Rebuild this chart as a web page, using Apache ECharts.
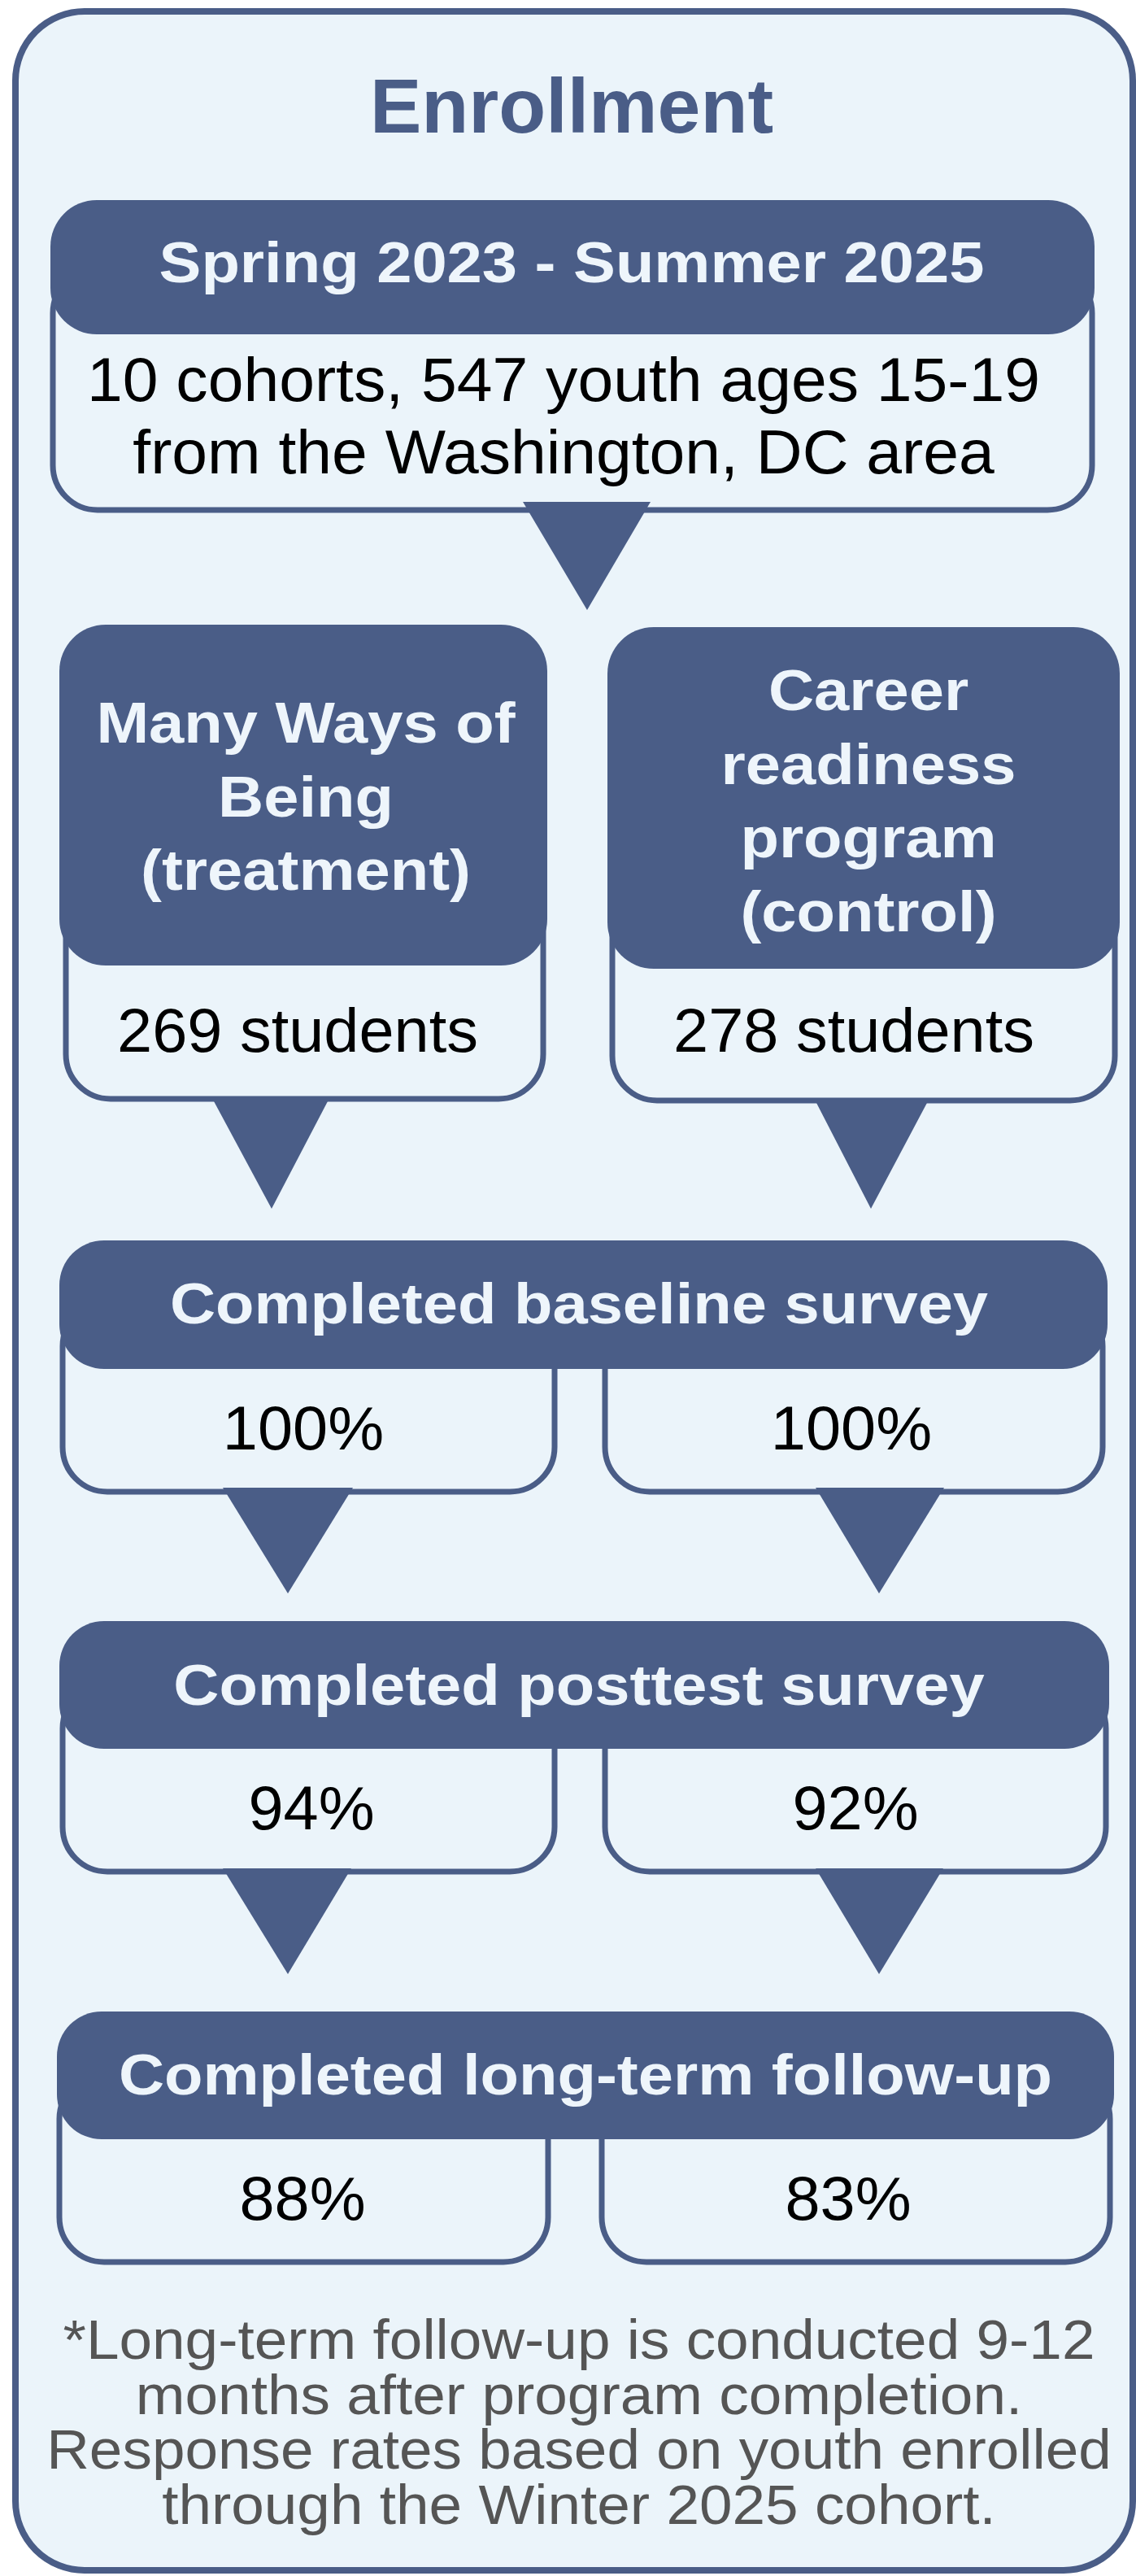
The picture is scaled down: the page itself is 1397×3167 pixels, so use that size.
<!DOCTYPE html>
<html>
<head>
<meta charset="utf-8">
<title>Enrollment</title>
<script src="https://cdn.jsdelivr.net/npm/echarts@6/dist/echarts.min.js"></script>
<style>
  html, body { margin: 0; padding: 0; background: #ffffff; }
  #main { width: 1397px; height: 3167px; }
</style>
</head>
<body>
<div id="main"></div>
<script>
// texts and numbers of the flow diagram
var title = 'Enrollment';
var periodLabel = 'Spring 2023 - Summer 2025';
var enrollmentLines = ['10 cohorts, 547 youth ages 15-19', 'from the Washington, DC area'];
var armLabels = [['Many Ways of', 'Being', '(treatment)'], ['Career', 'readiness', 'program', '(control)']];
var armCounts = [269, 278];
var stageLabels = ['Completed baseline survey', 'Completed posttest survey', 'Completed long-term follow-up'];
var treatmentRates = [100, 94, 88];
var controlRates = [100, 92, 83];
var footnoteLines = [
  '*Long-term follow-up is conducted 9-12',
  'months after program completion.',
  'Response rates based on youth enrolled',
  'through the Winter 2025 cohort.'
];

var DARK = '#4a5d87';
var LIGHT = '#ebf4fa';
var HEAD_TXT = '#eef5fb';
var FONT = '"Liberation Sans", Arial, Helvetica, sans-serif';
var TEXT_SHIFT = 6; // canvas 'middle' sits a bit above the cap centre

// layout (pixels)
var arms = [
  {head: [73, 768, 600, 419], body: [81, 1000, 587, 351], cx: 376, lineY: 888, count: [366, 1266]},
  {head: [747, 771, 630, 420], body: [753, 1000, 618, 353], cx: 1068, lineY: 848, count: [1050, 1266]}
];
var stages = [
  {head: [73, 1525, 1289, 158], left: [77, 1600, 605, 234], right: [744, 1600, 612, 234], tx: 712, ty: 1602, lx: 373, rx: 1047, vy: 1755},
  {head: [73, 1993, 1291, 157], left: [77, 2070, 605, 231], right: [744, 2070, 616, 231], tx: 712, ty: 2071, lx: 383, rx: 1052, vy: 2222},
  {head: [70, 2473, 1300, 157], left: [73, 2550, 601, 231], right: [740, 2550, 625, 231], tx: 720, ty: 2550, lx: 372, rx: 1043, vy: 2702}
];
// [left x, right x, top y, tip x, tip y]
var arrows = [
  [643, 800, 617, 722, 750],
  [263, 403, 1354, 334, 1486], [1003, 1141, 1354, 1071, 1486],
  [274, 434, 1829, 354, 1959], [1003, 1161, 1829, 1081, 1959],
  [274, 432, 2297, 354, 2427], [1003, 1160, 2297, 1081, 2427]
];

var elements = [];

function box(b, r, z, filled) {
  elements.push({
    type: 'rect', z: z,
    shape: {x: b[0], y: b[1], width: b[2], height: b[3], r: r},
    style: filled ? {fill: DARK} : {fill: LIGHT, stroke: DARK, lineWidth: 7}
  });
}

function label(txt, x, y, size, bold, color, sx) {
  elements.push({
    type: 'text', x: x, y: y + TEXT_SHIFT, z: 10, scaleX: sx,
    style: {
      text: txt, x: 0, y: 0, fill: color,
      fontSize: size, fontWeight: bold ? 'bold' : 'normal', fontFamily: FONT,
      align: 'center', verticalAlign: 'middle',
      textAlign: 'center', textVerticalAlign: 'middle'
    }
  });
}

// outer frame
elements.push({
  type: 'rect', z: 0,
  shape: {x: 19, y: 14, width: 1374, height: 3146, r: 85},
  style: {fill: LIGHT, stroke: DARK, lineWidth: 8}
});
label(title, 703, 131, 95, true, DARK, 1);

// enrollment box
box([65, 330, 1278, 297], 55, 1, false);
box([62, 246, 1284, 165], 57, 2, true);
label(periodLabel, 703, 322, 70, true, HEAD_TXT, 1.11);
enrollmentLines.forEach(function (t, i) {
  label(t, 693, 466 + i * 89, 76, false, '#000', 1.035);
});

// two arms
arms.forEach(function (a, k) {
  box(a.body, 55, 1, false);
  box(a.head, 57, 2, true);
  armLabels[k].forEach(function (t, i) {
    label(t, a.cx, a.lineY + i * 90.5, 70, true, HEAD_TXT, 1.11);
  });
  label(armCounts[k] + ' students', a.count[0], a.count[1], 76, false, '#000', 1.02);
});

// survey stages
stages.forEach(function (s, k) {
  box(s.left, 55, 1, false);
  box(s.right, 55, 1, false);
  box(s.head, 55, 2, true);
  label(stageLabels[k], s.tx, s.ty, 70, true, HEAD_TXT, 1.11);
  label(treatmentRates[k] + '%', s.lx, s.vy, 76, false, '#000', 1.02);
  label(controlRates[k] + '%', s.rx, s.vy, 76, false, '#000', 1.02);
});

// arrows
arrows.forEach(function (a) {
  elements.push({
    type: 'polygon', z: 5,
    shape: {points: [[a[0], a[2]], [a[1], a[2]], [a[3], a[4]]]},
    style: {fill: DARK}
  });
});

// footnote
footnoteLines.forEach(function (t, i) {
  label(t, 712, 2875 + i * 67.5, 69, false, '#555555', 1.057);
});

var chartDom = document.getElementById('main');
var myChart = echarts.init(chartDom, null, {renderer: 'canvas'});
var option = {
  animation: false,
  graphic: {elements: elements}
};
option && myChart.setOption(option);
</script>
</body>
</html>
